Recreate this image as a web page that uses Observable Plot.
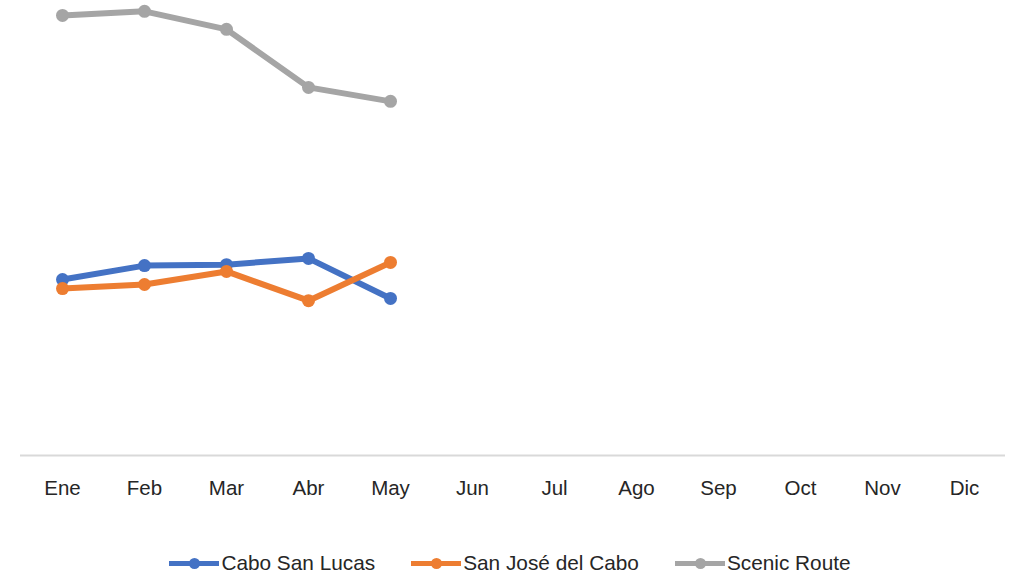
<!DOCTYPE html>
<html>
<head>
<meta charset="utf-8">
<script src="https://cdn.jsdelivr.net/npm/d3@7"></script>
<script src="https://cdn.jsdelivr.net/npm/@observablehq/plot@0.6"></script>
<style>
  html, body { margin: 0; padding: 0; background: #fff; }
  body { width: 1010px; height: 577px; overflow: hidden; font-family: "Liberation Sans", Arial, sans-serif; }
  #legend { display: flex; justify-content: center; align-items: center; margin-top: 31px; height: 24px; padding-left: 10px; font-size: 20.8px; color: #262626; }
  .item { display: flex; align-items: center; margin: 0 18px; }
  .sw { position: relative; width: 50px; height: 5px; margin-right: 2px; }
  .sw .dot { position: absolute; left: 20px; top: -3px; width: 11px; height: 11px; border-radius: 50%; }
</style>
</head>
<body>
<div id="chart"></div>
<div id="legend"></div>
<script>
const months = ["Ene","Feb","Mar","Abr","May","Jun","Jul","Ago","Sep","Oct","Nov","Dic"];
const seriesNames = ["Cabo San Lucas","San José del Cabo","Scenic Route"];
const seriesColors = ["#4472C4","#ED7D31","#A5A5A5"];
const caboSanLucas = [39.1, 42.2, 42.4, 43.8, 34.9];
const sanJoseDelCabo = [37.1, 38.0, 40.9, 34.4, 42.9];
const scenicRoute = [97.8, 98.7, 94.7, 81.8, 78.7];

const allValues = [caboSanLucas, sanJoseDelCabo, scenicRoute];
const data = [];
allValues.forEach((vals, s) => vals.forEach((v, i) => data.push({month: months[i], value: v, series: seriesNames[s]})));

const chart = Plot.plot({
  width: 1010,
  height: 520,
  marginLeft: 20,
  marginRight: 5,
  marginTop: 5,
  marginBottom: 65,
  style: {fontFamily: "Liberation Sans, Arial, sans-serif", fontSize: "20px", color: "#262626", background: "#fff"},
  x: {type: "point", domain: months, padding: 0.5, label: null},
  y: {domain: [0, 100], axis: null},
  color: {domain: seriesNames, range: seriesColors},
  marks: [
    Plot.ruleY([0], {stroke: "#d9d9d9", strokeWidth: 2}),
    Plot.axisX({tickSize: 0, tickPadding: 25, label: null, fontSize: 20.5}),
    Plot.line(data, {x: "month", y: "value", z: "series", stroke: "series", strokeWidth: 6, strokeLinejoin: "round", strokeLinecap: "round"}),
    Plot.dot(data, {x: "month", y: "value", fill: "series", r: 6.5})
  ]
});
document.getElementById("chart").appendChild(chart);

const legend = document.getElementById("legend");
seriesNames.forEach((name, i) => {
  const item = document.createElement("div");
  item.className = "item";
  item.innerHTML = `<div class="sw" style="background:${seriesColors[i]}"><div class="dot" style="background:${seriesColors[i]}"></div></div><span>${name}</span>`;
  legend.appendChild(item);
});
</script>
</body>
</html>
